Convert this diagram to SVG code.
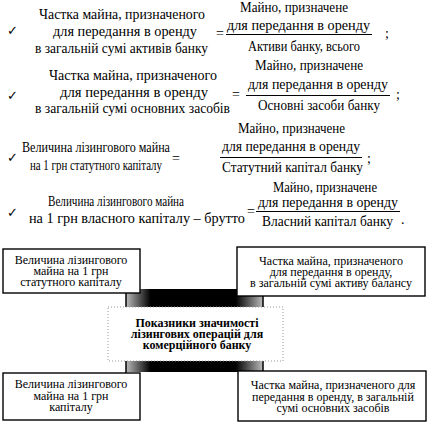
<svg xmlns="http://www.w3.org/2000/svg" width="447" height="429" viewBox="0 0 447 429">
<defs>
<style>
.t{font-family:"Liberation Serif","Times New Roman",serif;font-size:14px;fill:#000}
.b{font-family:"Liberation Serif","Times New Roman",serif;font-size:12px;fill:#000;text-anchor:middle}
.bb{font-family:"Liberation Serif","Times New Roman",serif;font-size:12px;font-weight:bold;fill:#000;text-anchor:middle}
.ck{font-family:"DejaVu Sans",sans-serif;font-size:13px;font-weight:bold;fill:#000}
.fl{stroke:#000;stroke-width:1}
.box{fill:#fff;stroke:#000;stroke-width:1.4}
</style>
<linearGradient id="bar" x1="0" x2="1" y1="0" y2="0">
<stop offset="0" stop-color="#bbb"/>
<stop offset="0.18" stop-color="#000"/>
<stop offset="0.8" stop-color="#000"/>
<stop offset="1" stop-color="#bbb"/>
</linearGradient>
</defs>
<rect width="447" height="429" fill="#fff"/>
<g id="formulas">
<g id="f1">
<text class="ck" x="7" y="35">✓</text>
<text class="t" x="39" y="19" textLength="166" lengthAdjust="spacingAndGlyphs">Частка майна, призначеного</text>
<text class="t" x="53" y="36" textLength="144" lengthAdjust="spacingAndGlyphs">для передання в оренду</text>
<text class="t" x="35" y="53" textLength="173" lengthAdjust="spacingAndGlyphs">в загальній сумі активів банку</text>
<text class="t" x="216" y="38">=</text>
<text class="t" x="240" y="12" textLength="108" lengthAdjust="spacingAndGlyphs">Майно, призначене</text>
<text class="t" x="227" y="30" textLength="143" lengthAdjust="spacingAndGlyphs">для передання в оренду</text>
<line class="fl" x1="226" y1="34.5" x2="372" y2="34.5"/>
<text class="t" x="248" y="51" textLength="112" lengthAdjust="spacingAndGlyphs">Активи банку, всього</text>
<text class="t" x="385" y="38">;</text>
</g>
<g id="f2">
<text class="ck" x="7" y="100">✓</text>
<text class="t" x="49" y="80" textLength="168" lengthAdjust="spacingAndGlyphs">Частка майна, призначеного</text>
<text class="t" x="60" y="97" textLength="148" lengthAdjust="spacingAndGlyphs">для передання в оренду</text>
<text class="t" x="35" y="113" textLength="195" lengthAdjust="spacingAndGlyphs">в загальній сумі основних засобів</text>
<text class="t" x="232" y="99">=</text>
<text class="t" x="255" y="70" textLength="108" lengthAdjust="spacingAndGlyphs">Майно, призначене</text>
<text class="t" x="248" y="89" textLength="140" lengthAdjust="spacingAndGlyphs">для передання в оренду</text>
<line class="fl" x1="246" y1="95.5" x2="390" y2="95.5"/>
<text class="t" x="258" y="110" textLength="122" lengthAdjust="spacingAndGlyphs">Основні засоби банку</text>
<text class="t" x="396" y="99">;</text>
</g>
<g id="f3">
<text class="ck" x="7" y="162">✓</text>
<text class="t" x="22" y="152" textLength="148" lengthAdjust="spacingAndGlyphs">Величина лізингового майна</text>
<text class="t" x="30" y="170" textLength="132" lengthAdjust="spacingAndGlyphs">на 1 грн статутного капіталу</text>
<text class="t" x="172" y="163">=</text>
<text class="t" x="238" y="133" textLength="107" lengthAdjust="spacingAndGlyphs">Майно, призначене</text>
<text class="t" x="222" y="151" textLength="138" lengthAdjust="spacingAndGlyphs">для передання в оренду</text>
<line class="fl" x1="220" y1="157.5" x2="362" y2="157.5"/>
<text class="t" x="222" y="172" textLength="141" lengthAdjust="spacingAndGlyphs">Статутний капітал банку</text>
<text class="t" x="367" y="163">;</text>
</g>
<g id="f4">
<text class="ck" x="7" y="217">✓</text>
<text class="t" x="48" y="206" textLength="136" lengthAdjust="spacingAndGlyphs">Величина лізингового майна</text>
<text class="t" x="29" y="223" textLength="216" lengthAdjust="spacingAndGlyphs">на 1 грн власного капіталу – брутто</text>
<text class="t" x="247" y="216">=</text>
<text class="t" x="273" y="192" textLength="104" lengthAdjust="spacingAndGlyphs">Майно, призначене</text>
<text class="t" x="258" y="207" textLength="140" lengthAdjust="spacingAndGlyphs">для передання в оренду</text>
<line class="fl" x1="256" y1="211.5" x2="400" y2="211.5"/>
<text class="t" x="262" y="226" textLength="131" lengthAdjust="spacingAndGlyphs">Власний капітал банку</text>
<text class="t" x="401" y="224">.</text>
</g>
</g>
<g id="connectors">
<rect x="126" y="289" width="137" height="19" fill="url(#bar)"/>
<rect x="126" y="357" width="137" height="15" fill="url(#bar)"/>
<line x1="126" y1="290" x2="126" y2="373" stroke="#000" stroke-width="1.5"/>
<line x1="263" y1="290" x2="263" y2="373" stroke="#000" stroke-width="1.5"/>
</g>
<g id="center">
<rect x="108" y="307" width="175" height="54" fill="#fff" stroke="#999" stroke-width="1" stroke-dasharray="1 2"/>
<text class="bb" x="197" y="327">Показники значимості</text>
<text class="bb" x="197" y="338">лізингових операцій для</text>
<text class="bb" x="197" y="349">комерційного банку</text>
</g>
<g id="tl">
<rect class="box" x="3" y="249" width="137" height="44"/>
<text class="b" x="71" y="264">Величина лізингового</text>
<text class="b" x="71" y="275">майна на 1 грн</text>
<text class="b" x="71" y="286">статутного капіталу</text>
</g>
<g id="tr">
<rect class="box" x="237" y="247" width="188" height="49"/>
<text class="b" x="331" y="265">Частка майна, призначеного</text>
<text class="b" x="331" y="276">для передання в оренду,</text>
<text class="b" x="331" y="287">в загальній сумі активу балансу</text>
</g>
<g id="bl">
<rect class="box" x="3" y="373" width="137" height="47"/>
<text class="b" x="71" y="388">Величина лізингового</text>
<text class="b" x="71" y="400">майна на 1 грн</text>
<text class="b" x="71" y="411">капіталу</text>
</g>
<g id="br">
<rect class="box" x="238" y="371" width="188" height="50"/>
<text class="b" x="333" y="389">Частка майна, призначеного для</text>
<text class="b" x="333" y="401">передання в оренду, в загальній</text>
<text class="b" x="333" y="412">сумі основних засобів</text>
</g>
</svg>
